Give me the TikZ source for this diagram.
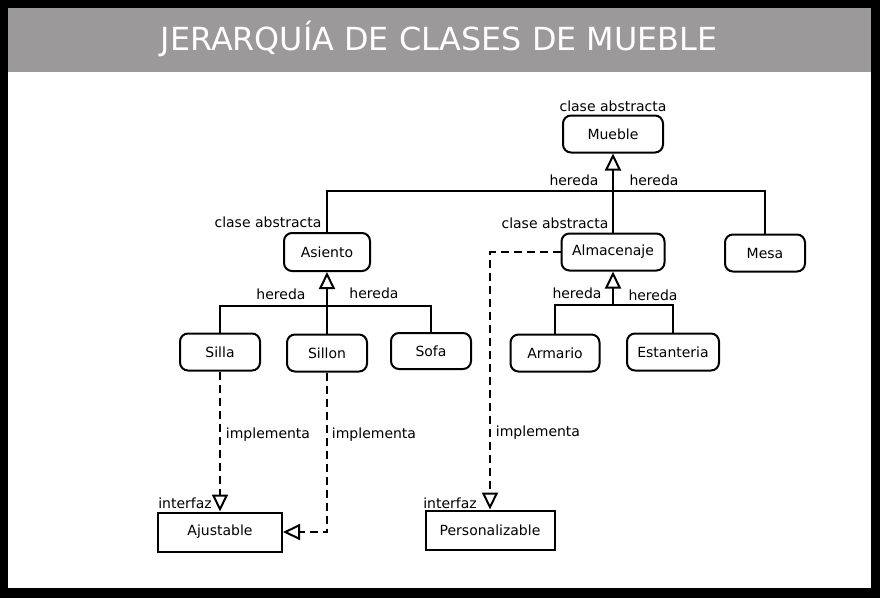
\documentclass[tikz,border=0pt]{standalone}
\usepackage{fontspec}
\setmainfont{DejaVu Sans}
\usetikzlibrary{arrows.meta}
\definecolor{titlegray}{RGB}{155,153,153}
\tikzset{
  cls/.style={draw, line width=2pt, rounded corners=8pt, inner sep=0pt, font=\fontsize{14}{16}\selectfont},
  ifc/.style={draw, line width=2pt, inner sep=0pt, font=\fontsize{14}{16}\selectfont},
  lbl/.style={inner sep=0pt, font=\fontsize{14}{16}\selectfont},
  inh/.style={line width=2pt, -{Triangle[open, length=17pt, width=16pt, fill=white]}},
  plain/.style={line width=2pt},
  impl/.style={line width=2pt, dash pattern=on 8pt off 5pt, -{Triangle[open, length=17pt, width=16pt, fill=white]}},
}
\begin{document}
\begin{tikzpicture}[x=1pt, y=-1pt]
\useasboundingbox (0,0) rectangle (880,598);
\fill[black] (0,0) rectangle (880,598);
\fill[white] (8,8) rectangle (871,588);
\fill[titlegray] (8,8) rectangle (871,72);
\node[text=white, font=\fontsize{31.8}{36}\selectfont, inner sep=0pt] (title) at (439,39) {JERARQUÍA DE CLASES DE MUEBLE};

% classes
\node[cls, minimum width=100pt, minimum height=37pt] (mueble) at (613,134) {Mueble};
\node[cls, minimum width=86pt, minimum height=38pt] (asiento) at (327,252) {Asiento};
\node[cls, minimum width=103pt, minimum height=37pt] (almacenaje) at (613,252) {Almacenaje};
\node[cls, minimum width=80pt, minimum height=37pt] (mesa) at (765,253) {Mesa};
\node[cls, minimum width=80pt, minimum height=37pt] (silla) at (220,352) {Silla};
\node[cls, minimum width=80pt, minimum height=37pt] (sillon) at (327,353) {Sillon};
\node[cls, minimum width=80pt, minimum height=36pt] (sofa) at (431,351) {Sofa};
\node[cls, minimum width=89pt, minimum height=37pt] (armario) at (555,353) {Armario};
\node[cls, minimum width=92pt, minimum height=37pt] (estanteria) at (673,352) {Estanteria};
\node[ifc, minimum width=124pt, minimum height=39pt] (ajustable) at (220,532) {Ajustable};
\node[ifc, minimum width=129pt, minimum height=39pt] (personalizable) at (490,530) {Personalizable};

% junctions
\coordinate (j1) at (613,191);
\coordinate (j2) at (327,306);
\coordinate (j3) at (613,305);

% inheritance
\draw[inh] (almacenaje.north) -- (mueble.south);
\draw[plain] (asiento.north) |- (j1) -| (mesa.north);
\draw[inh] (sillon.north) -- (asiento.south);
\draw[plain] (silla.north) |- (j2) -| (sofa.north);
\draw[inh] (j3) -- (almacenaje.south);
\draw[plain] (armario.north) |- (j3) -| (estanteria.north);

% implementation
\draw[impl] (silla.south) -- (ajustable.north);
\draw[impl] (sillon.south) |- (ajustable.east);
\draw[impl] (almacenaje.west) -| (personalizable.north);

% labels
\node[lbl] (l1) at (613,106) {clase abstracta};
\node[lbl] (l2) at (268,222) {clase abstracta};
\node[lbl] (l3) at (555,223) {clase abstracta};
\node[lbl] (h1) at (574,180) {hereda};
\node[lbl] (h2) at (654,180) {hereda};
\node[lbl] (h3) at (281,294) {hereda};
\node[lbl] (h4) at (374,293) {hereda};
\node[lbl] (h5) at (577,293) {hereda};
\node[lbl] (h6) at (653,295) {hereda};
\node[lbl] (i1) at (268,435) {implementa};
\node[lbl] (i2) at (374,435) {implementa};
\node[lbl] (i3) at (538,433) {implementa};
\node[lbl] (f1) at (185,503) {interfaz};
\node[lbl] (f2) at (450,503) {interfaz};
\end{tikzpicture}
\end{document}
